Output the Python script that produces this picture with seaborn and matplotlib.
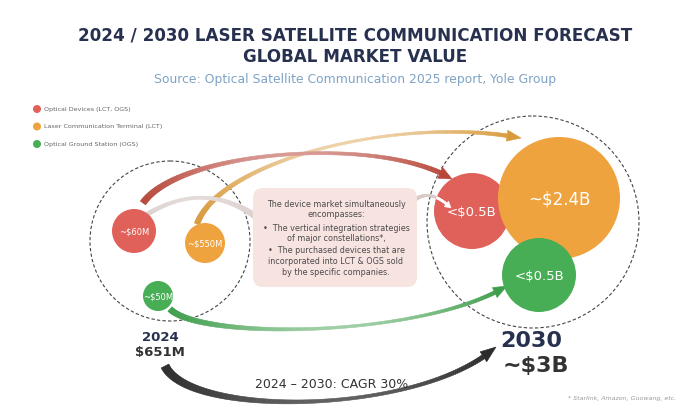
import numpy as np
import pandas as pd
import matplotlib
matplotlib.use("Agg")
import matplotlib.pyplot as plt
from matplotlib.patches import Circle, FancyBboxPatch, Polygon
from matplotlib.collections import PolyCollection
from matplotlib.colors import to_rgb
import seaborn as sns

# ---------------- data ----------------
segments = ["Optical Devices (LCT, OGS)", "Laser Communication Terminal (LCT)", "Optical Ground Station (OGS)"]
labels_2024 = ["~$60M", "~$550M", "~$50M"]
labels_2030 = ["<$0.5B", "~$2.4B", "<$0.5B"]
total_2024 = "$651M"
total_2030 = "~$3B"
cagr_text = "2024 – 2030: CAGR 30%"

# ---------------- layout / style ----------------
colors = ["#E0605A", "#EEA33F", "#47AE55"]
pos_2024 = [(134, 231), (205, 243), (158, 296)]
rad_2024 = [22, 20, 15]
pos_2030 = [(472, 211), (559, 198), (539, 275)]
rad_2030 = [38, 61, 37]
navy = "#27314F"

sns.set_theme(style="white")
plt.rcParams["font.family"] = ["DejaVu Sans"]

fig = plt.figure(figsize=(7.0, 4.11), dpi=100)
ax = fig.add_axes([0, 0, 1, 1])
ax.set_xlim(0, 700)
ax.set_ylim(411, 0)
ax.set_aspect("equal")
ax.axis("off")


def bez(ctrl, n=160):
    t = np.linspace(0, 1, n)[:, None]
    c = [np.asarray(p, float) for p in ctrl]
    if len(c) == 3:
        return (1 - t) ** 2 * c[0] + 2 * (1 - t) * t * c[1] + t ** 2 * c[2]
    return ((1 - t) ** 3 * c[0] + 3 * (1 - t) ** 2 * t * c[1]
            + 3 * (1 - t) * t ** 2 * c[2] + t ** 3 * c[3])


def taper_arrow(ctrl, widths, color, head=(12, 12), fade=0.0, z=2, clip=None, p=2.5):
    pts = bez(ctrl)
    seg = np.linalg.norm(np.diff(pts, axis=0), axis=1)
    s = np.concatenate([[0], np.cumsum(seg)])
    L = s[-1]
    hl, hw = head
    keep = s <= L - hl if hl > 0 else np.ones_like(s, bool)
    sp = pts[keep]
    ss = s[keep] / L
    w0, wm, w1 = widths
    w = wm + (w0 - wm) * (1 - ss) ** p + (w1 - wm) * ss ** p
    d = np.gradient(sp, axis=0)
    d /= np.linalg.norm(d, axis=1)[:, None]
    nrm = np.stack([-d[:, 1], d[:, 0]], axis=1)
    left = sp + nrm * (w / 2)[:, None]
    right = sp - nrm * (w / 2)[:, None]
    base_rgb = np.array(to_rgb(color))
    quads, cols = [], []
    for i in range(len(sp) - 1):
        quads.append([left[i], left[i + 1], right[i + 1], right[i]])
        tm = 0.5 * (ss[i] + ss[i + 1])
        f = fade * np.clip(4 * tm * (1 - tm), 0, 1) ** 1.5
        cols.append(base_rgb * (1 - f) + np.ones(3) * f)
    pc = PolyCollection(quads, facecolors=cols, edgecolors=cols, linewidths=0.4, zorder=z)
    ax.add_collection(pc)
    arts = [pc]
    if hl > 0:
        base = sp[-1]
        nn = nrm[-1]
        tip = np.asarray(ctrl[-1], float)
        hp = Polygon([base + nn * hw / 2, tip, base - nn * hw / 2], closed=True,
                     facecolor=color, edgecolor=color, lw=0.4, zorder=z)
        ax.add_patch(hp)
        arts.append(hp)
    if clip is not None:
        for a in arts:
            a.set_clip_path(clip)


# dashed group circles
ax.add_patch(Circle((170, 241), 80, fill=False, ls=(0, (3, 2)), lw=0.8,
                    ec="#444444", zorder=1))
ax.add_patch(Circle((533, 222), 106, fill=False, ls=(0, (3, 2)), lw=0.8,
                    ec="#444444", zorder=1))

# connectors
taper_arrow([(143, 203), (180, 150), (380, 135), (452, 179)], (6.5, 1.6, 5),
            "#B8473A", head=(12, 12), fade=0.45, z=3)
taper_arrow([(197, 224), (220, 160), (400, 115), (521, 138)], (5.5, 1.3, 4),
            "#D99A3C", head=(12, 11), fade=0.55, z=2)
taper_arrow([(140, 219), (200, 178), (255, 216)], (5, 1.6, 6),
            "#DDD2D0", head=(0, 0), fade=0.2, z=3)
taper_arrow([(409, 206), (426, 184), (451, 208)], (4, 2, 2),
            "#D8CBC8", head=(6, 7), fade=0.0, z=3)
clip_circle = Circle(pos_2030[0], rad_2030[0], transform=ax.transData)
taper_arrow([(409, 206), (426, 184), (451, 208)], (4, 2, 2),
            "#FFFFFF", head=(6, 7), fade=0.0, z=6, clip=clip_circle)
taper_arrow([(170, 309), (200, 340), (420, 338), (507, 286)], (6, 1.5, 4),
            "#3E9E4B", head=(12, 11), fade=0.5, z=2)
taper_arrow([(165, 366), (190, 418), (420, 415), (496, 347)], (8.5, 1.5, 5),
            "#2B2B2B", head=(14, 12), fade=0.25, z=2)

# bubbles through seaborn scatter (sizes in points^2)
df = pd.DataFrame({
    "segment": segments * 2,
    "x": [p[0] for p in pos_2024] + [p[0] for p in pos_2030],
    "y": [p[1] for p in pos_2024] + [p[1] for p in pos_2030],
    "r": rad_2024 + rad_2030,
    "label": labels_2024 + labels_2030,
})
df["s"] = (2 * df["r"] * 72 / 100) ** 2
sns.scatterplot(data=df, x="x", y="y", hue="segment", palette=colors,
                s=df["s"].values, linewidth=0, legend=False, ax=ax, zorder=4)
for _, row in df.iterrows():
    fs = 6 if row["r"] < 30 else (9.5 if row["r"] < 50 else 12)
    ax.text(row["x"], row["y"] + 1, row["label"], ha="center", va="center",
            color="white", fontsize=fs, zorder=7)

# text box
ax.add_patch(FancyBboxPatch((259, 194), 152, 87, boxstyle="round,pad=6,rounding_size=10",
                            fc="#F7E4E1", ec="none", zorder=5))
box_lines = [
    (204, "The device market simultaneously"),
    (214, "encompasses:"),
    (228, "•  The vertical integration strategies"),
    (238, "of major constellations*,"),
    (250, "•  The purchased devices that are"),
    (261, "incorporated into LCT & OGS sold"),
    (272, "by the specific companies."),
]
for yy, t in box_lines:
    ax.text(336, yy, t, ha="center", va="center", fontsize=5.8, color="#4A4A4A", zorder=6)

# legend
for i, (seg, col) in enumerate(zip(segments, colors)):
    yy = 109 + i * 17.5
    ax.add_patch(Circle((37, yy), 4, fc=col, ec="none", zorder=4))
    ax.text(44, yy, seg, ha="left", va="center", fontsize=4.6, color="#666666")

# titles
ax.text(355, 35, "2024 / 2030 LASER SATELLITE COMMUNICATION FORECAST", ha="center",
        va="center", fontsize=12.1, fontweight="bold", color=navy)
ax.text(355, 57, "GLOBAL MARKET VALUE", ha="center", va="center", fontsize=12.1,
        fontweight="bold", color=navy)
ax.text(355, 80, "Source: Optical Satellite Communication 2025 report, Yole Group",
        ha="center", va="center", fontsize=8.9, color="#7FA3C6")

# year totals
ax.text(160, 337, "2024", ha="center", va="center", fontsize=9.5, fontweight="bold", color=navy)
ax.text(160, 352, total_2024, ha="center", va="center", fontsize=9.5, fontweight="bold", color="#333333")
ax.text(531, 341, "2030", ha="center", va="center", fontsize=16, fontweight="bold", color=navy)
ax.text(536, 366, total_2030, ha="center", va="center", fontsize=16, fontweight="bold", color="#333333")
ax.text(332, 384, cagr_text, ha="center", va="center", fontsize=9, color="#333333", zorder=6)
ax.text(676, 398, "* Starlink, Amazon, Guowang, etc.", ha="right", va="center",
        fontsize=4.5, style="italic", color="#9A9A9A")

fig.savefig("out.png", dpi=100, facecolor="white")
